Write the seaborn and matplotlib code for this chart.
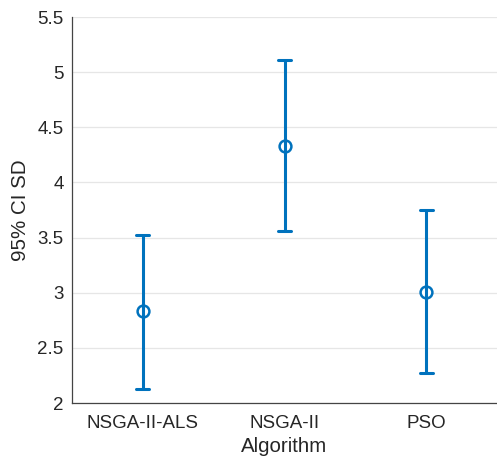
import numpy as np
import pandas as pd
import matplotlib
matplotlib.use("Agg")
import matplotlib.pyplot as plt
import seaborn as sns

algorithms = ["NSGA-II-ALS", "NSGA-II", "PSO"]
means = [2.83, 4.33, 3.01]
lower = [2.13, 3.56, 2.27]
upper = [3.52, 5.11, 3.75]
yticks = [2, 2.5, 3, 3.5, 4, 4.5, 5, 5.5]
ytick_labels = ["2", "2.5", "3", "3.5", "4", "4.5", "5", "5.5"]

rows = []
for a, m, lo, hi in zip(algorithms, means, lower, upper):
    for v in (lo, m, hi):
        rows.append({"Algorithm": a, "value": v})
df = pd.DataFrame(rows)

sns.set_theme(style="white")
plt.rcParams["font.family"] = ["Liberation Sans", "DejaVu Sans"]

color = "#0072BD"
fig = plt.figure(figsize=(4.97, 4.58), dpi=100)
ax = fig.add_axes([72/497, 1 - 403/458, 425/497, 386/458])

sns.pointplot(data=df, x="Algorithm", y="value", order=algorithms,
              estimator=np.median, errorbar=lambda v: (np.min(v), np.max(v)),
              linestyle="none", markers="o", color=color, capsize=0.09,
              err_kws={"linewidth": 2.2}, markersize=8.5,
              markerfacecolor="white", markeredgewidth=1.8, ax=ax)

ax.set_xlim(-0.5, 2.5)
ax.set_ylim(2, 5.5)
ax.set_yticks(yticks)
ax.set_yticklabels(ytick_labels)
ax.yaxis.grid(True, color="#e6e6e6", linewidth=0.9)
ax.set_axisbelow(True)
for s in ["top", "right"]:
    ax.spines[s].set_visible(False)
for s in ["left", "bottom"]:
    ax.spines[s].set_color("#444444")
    ax.spines[s].set_linewidth(0.9)
ax.tick_params(axis="both", direction="in", length=4, width=0.8, colors="#444444",
               labelsize=13.5, labelcolor="#262626")
ax.tick_params(axis="y", length=5, pad=6)
ax.tick_params(axis="x", pad=9)
ax.set_xlabel("Algorithm", fontsize=14.8, color="#262626", labelpad=3)
ax.set_ylabel("95% CI SD", fontsize=14.8, color="#262626", labelpad=5)

fig.savefig("out.png", dpi=100)
